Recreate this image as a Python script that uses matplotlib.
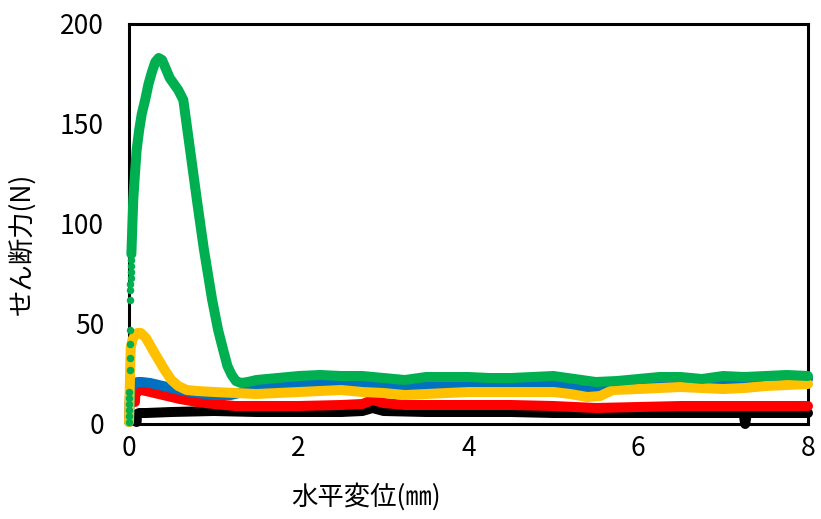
import matplotlib
matplotlib.use("Agg")
import matplotlib.pyplot as plt

plt.rcParams['font.family'] = ['Noto Sans CJK JP', 'DejaVu Sans']

# Horizontal displacement (mm) and shear force (N) for each specimen
black_x = [0.09, 0.095, 0.12, 0.2, 0.5, 1.0, 1.5, 2.0, 2.5, 2.75, 2.87, 3.0, 3.5, 4.0, 4.5,
           5.0, 5.5, 6.0, 6.5, 7.0, 7.24, 7.26, 7.28, 7.5, 8.0]
black_y = [1, 5, 5.5, 5.5, 6, 6.5, 6, 6, 6, 6.5, 8, 6.5, 6, 6, 6,
           5.5, 5.5, 5.5, 5.5, 5.5, 5.5, 0, 5.5, 5.5, 5.5]

red_x = [0.07, 0.075, 0.1, 0.14, 0.2, 0.3, 0.45, 0.6, 0.8, 1.0, 1.25, 1.5, 2.0, 2.5, 2.75,
         2.87, 3.0, 3.25, 3.5, 4.0, 4.5, 5.0, 5.5, 6.0, 6.5, 7.0, 7.5, 8.0]
red_y = [11, 15, 16.5, 17, 16.5, 15.5, 14, 12.5, 11, 10, 9, 9, 9, 9.5, 10,
         12, 10.5, 9.5, 9.5, 9.5, 9.5, 9, 8, 8.5, 9, 9, 9, 9]

blue_x = [0.0, 0.005, 0.01, 0.02, 0.05, 0.1, 0.15, 0.25, 0.35, 0.5, 0.65, 0.8, 1.0, 1.2,
          1.35, 1.5, 1.75, 2.0, 2.25, 2.5, 2.75, 3.0, 3.25, 3.5, 3.75, 4.0, 4.25, 4.5,
          4.75, 5.0, 5.25, 5.5, 5.75, 6.0, 6.5, 7.0, 7.5, 8.0]
blue_y = [1, 8, 14, 17, 20, 21, 21, 20.5, 19.5, 18, 16.5, 15.5, 14.5, 14.5,
          16, 17.5, 19, 20, 20, 20.5, 20, 19.5, 18, 19, 19, 19, 18.5, 18.5,
          19, 19.5, 18.5, 18, 19.5, 20.5, 21.5, 21, 22, 22.5]

yellow_x = [0.0, 0.005, 0.01, 0.015, 0.02, 0.04, 0.07, 0.1, 0.14, 0.2, 0.28, 0.35, 0.42,
            0.5, 0.58, 0.68, 0.8, 1.0, 1.25, 1.5, 1.75, 2.0, 2.25, 2.5, 2.75, 3.0, 3.25,
            3.5, 3.75, 4.0, 4.25, 4.5, 4.75, 5.0, 5.2, 5.4, 5.55, 5.7, 6.0, 6.25, 6.5,
            6.75, 7.0, 7.25, 7.5, 7.75, 8.0]
yellow_y = [1, 10, 20, 30, 38, 42, 44.5, 45.5, 45.5, 43, 37, 32, 27,
            22, 19, 17, 16.5, 16, 15.5, 15, 15.5, 16, 16.5, 17, 16, 15.5, 14.5,
            15, 15.5, 16, 16, 16, 16, 16, 15, 13.5, 14, 17, 17.5, 18, 18.5,
            18, 17.5, 18, 19, 19.5, 20]

# Early green readings recorded as separate points
green_dot_x = [0.0, 0.0, 0.0, 0.0, 0.0, 0.005, 0.01, 0.01, 0.01, 0.01, 0.012, 0.015, 0.017,
               0.02, 0.022, 0.024, 0.026]
green_dot_y = [1, 4, 7, 10, 13, 16, 27, 33, 40, 47, 62, 67, 70, 73, 76, 79, 82]

green_x = [0.028, 0.04, 0.05, 0.07, 0.09, 0.12, 0.15, 0.19, 0.23, 0.27, 0.31, 0.35, 0.39,
           0.43, 0.48, 0.53, 0.58, 0.64, 0.72, 0.80, 0.88, 0.98, 1.05, 1.11, 1.16, 1.21,
           1.26, 1.32, 1.40, 1.50, 1.75, 2.0, 2.25, 2.5, 2.75, 3.0, 3.25, 3.5, 3.75, 4.0,
           4.25, 4.5, 4.75, 5.0, 5.25, 5.5, 5.75, 6.0, 6.25, 6.5, 6.75, 7.0, 7.25, 7.5,
           7.75, 8.0]
green_y = [85, 100, 112, 125, 137, 147, 155, 162, 170, 176, 181, 183, 182,
           178, 173, 170, 167, 162, 137, 112, 88, 62, 47, 37, 29, 24.5,
           21.5, 20.5, 21, 22, 23, 24, 24.5, 24, 24, 23, 22, 23.5, 23.5, 23.5,
           23, 23, 23.5, 24, 22.5, 21, 21.5, 22.5, 23.5, 23.5, 22.5, 24, 23.5, 24,
           24.5, 24]

x_ticks = [0, 2, 4, 6, 8]
y_ticks = [0, 50, 100, 150, 200]

fig = plt.figure(figsize=(8.21, 5.19), dpi=100)
ax = fig.add_axes([129 / 821, 1 - 424 / 519, 679 / 821, 400 / 519])

lw = 7.2
style = dict(linestyle='-', linewidth=lw, solid_capstyle='round',
             solid_joinstyle='round', clip_on=False)

ax.plot(black_x, black_y, color='#000000', **style)
ax.plot(red_x, red_y, color='#FF0000', **style)
ax.plot(blue_x, blue_y, color='#0070C0', **style)
ax.plot(yellow_x, yellow_y, color='#FFC000', **style)
ax.plot(green_x, green_y, color='#00B050', **style)
ax.plot(green_dot_x, green_dot_y, linestyle='none', marker='o', markersize=5.4,
        color='#00B050', markeredgewidth=0, clip_on=False)

ax.set_xlim(0, 8)
ax.set_ylim(0, 200)
ax.set_xticks(x_ticks)
ax.set_yticks(y_ticks)
ax.tick_params(axis='both', length=0, labelsize=19, colors='black')
ax.tick_params(axis='y', pad=18)
ax.tick_params(axis='x', pad=8)

for sp in ax.spines.values():
    sp.set_linewidth(2.2)
    sp.set_color('black')
    sp.set_zorder(0.5)

ax.set_xlabel('水平変位(㎜)', fontsize=19)
ax.xaxis.set_label_coords(0.349, -0.148)
ax.set_ylabel('せん断力(N)', fontsize=19)
ax.yaxis.set_label_coords(-0.137, 0.45)

fig.savefig('out.png', dpi=100)
